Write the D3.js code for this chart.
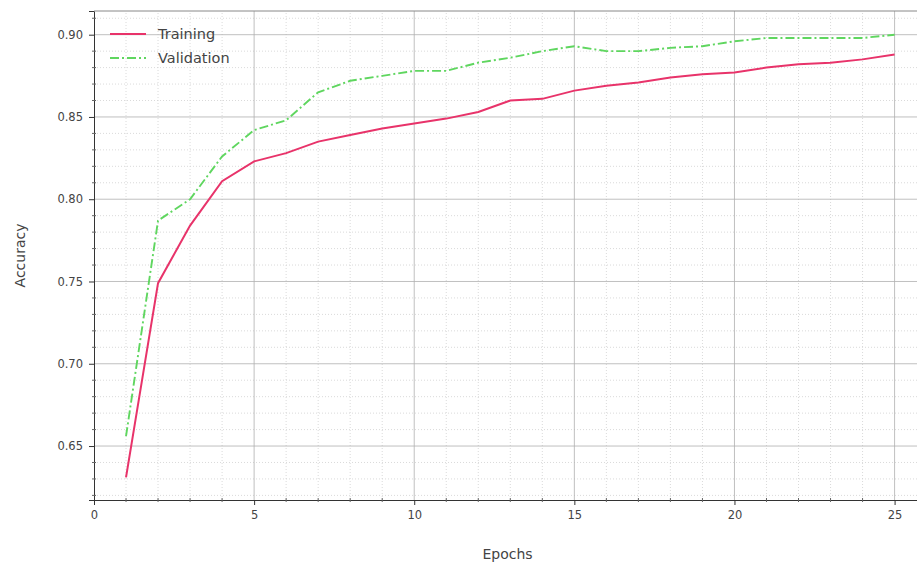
<!DOCTYPE html>
<html>
<head>
<meta charset="utf-8">
<script src="https://cdn.jsdelivr.net/npm/d3@7"></script>
<style>
  body { margin: 0; background: #fff; }
  text { font-family: "DejaVu Sans", sans-serif; }
</style>
</head>
<body>
<svg id="acc-chart" width="917" height="565"></svg>
<script>
// accuracy per epoch
const epochs = d3.range(1, 26);
const trainAcc = [0.631, 0.749, 0.784, 0.811, 0.823, 0.828, 0.835, 0.839, 0.843, 0.846,
  0.849, 0.853, 0.860, 0.861, 0.866, 0.869, 0.871, 0.874, 0.876, 0.877,
  0.880, 0.882, 0.883, 0.885, 0.888];
const valAcc = [0.656, 0.787, 0.800, 0.826, 0.842, 0.848, 0.865, 0.872, 0.875, 0.878,
  0.878, 0.883, 0.886, 0.890, 0.893, 0.890, 0.890, 0.892, 0.893, 0.896,
  0.898, 0.898, 0.898, 0.898, 0.900];
const xTicks = [0, 5, 10, 15, 20, 25];
const yTicks = [0.65, 0.70, 0.75, 0.80, 0.85, 0.90];

const svg = d3.select("svg#acc-chart");
const margin = { left: 94, right: 0, top: 11, bottom: 65 };
const width = +svg.attr("width");
const height = +svg.attr("height");

const x = d3.scaleLinear()
  .domain([0, 25.7])
  .range([margin.left, width - margin.right]);
const y = d3.scaleLinear()
  .domain([0.6172, 0.9144])
  .range([height - margin.bottom, margin.top]);

const gridColor = "#b0b0b0";
const minorColor = "#d0d0d0";
const axisColor = "#333";

// minor grid (dotted)
const xMinor = d3.range(1, 26).filter((d) => d % 5 !== 0);
const yMinor = d3.range(62, 92).map((d) => d / 100).filter((d) => Math.round(d * 100) % 5 !== 0);

const grid = svg.append("g").attr("class", "grid");
grid.selectAll("line.xminor")
  .data(xMinor)
  .join("line")
  .attr("class", "xminor")
  .attr("x1", (d) => x(d)).attr("x2", (d) => x(d))
  .attr("y1", y.range()[0]).attr("y2", y.range()[1])
  .attr("stroke", minorColor)
  .attr("stroke-width", 0.8)
  .attr("stroke-dasharray", "1,2");
grid.selectAll("line.yminor")
  .data(yMinor)
  .join("line")
  .attr("class", "yminor")
  .attr("y1", (d) => y(d)).attr("y2", (d) => y(d))
  .attr("x1", x.range()[0]).attr("x2", x.range()[1])
  .attr("stroke", minorColor)
  .attr("stroke-width", 0.8)
  .attr("stroke-dasharray", "1,2");

// major grid
grid.selectAll("line.xmajor")
  .data(xTicks.slice(1))
  .join("line")
  .attr("class", "xmajor")
  .attr("x1", (d) => x(d)).attr("x2", (d) => x(d))
  .attr("y1", y.range()[0]).attr("y2", y.range()[1])
  .attr("stroke", gridColor)
  .attr("stroke-width", 0.8);
grid.selectAll("line.ymajor")
  .data(yTicks)
  .join("line")
  .attr("class", "ymajor")
  .attr("y1", (d) => y(d)).attr("y2", (d) => y(d))
  .attr("x1", x.range()[0]).attr("x2", x.range()[1])
  .attr("stroke", gridColor)
  .attr("stroke-width", 0.8);

// axes
const xAxis = svg.append("g")
  .attr("transform", `translate(0, ${y.range()[0]})`)
  .call(d3.axisBottom(x).tickValues(xTicks).tickSize(5).tickPadding(6).tickFormat(d3.format("d")));
const yAxis = svg.append("g")
  .attr("transform", `translate(${x.range()[0]}, 0)`)
  .call(d3.axisLeft(y).tickValues(yTicks).tickSize(5).tickPadding(6).tickFormat(d3.format(".2f")));

[xAxis, yAxis].forEach((ax) => {
  ax.select(".domain").attr("stroke", axisColor).attr("stroke-width", 1);
  ax.selectAll(".tick line").attr("stroke", axisColor);
  ax.selectAll(".tick text")
    .attr("fill", "#444")
    .style("font-size", "11.5px")
    .style("font-family", "DejaVu Sans, sans-serif");
});

// minor ticks
svg.append("g").selectAll("line")
  .data(xMinor)
  .join("line")
  .attr("x1", (d) => x(d)).attr("x2", (d) => x(d))
  .attr("y1", y.range()[0] - 2).attr("y2", y.range()[0] + 2)
  .attr("stroke", "#666");
svg.append("g").selectAll("line")
  .data(yMinor)
  .join("line")
  .attr("y1", (d) => y(d)).attr("y2", (d) => y(d))
  .attr("x1", x.range()[0] - 2).attr("x2", x.range()[0] + 2)
  .attr("stroke", "#666");

// top spine
svg.append("line")
  .attr("x1", x.range()[0]).attr("x2", x.range()[1])
  .attr("y1", y.range()[1]).attr("y2", y.range()[1])
  .attr("stroke", "#888")
  .attr("stroke-width", 1);

// lines
const trainColor = "#e8336a";
const valColor = "#5fd65f";
const lineGen = d3.line().x((d) => x(d[0])).y((d) => y(d[1]));

svg.append("path")
  .datum(epochs.map((e, i) => [e, valAcc[i]]))
  .attr("fill", "none")
  .attr("stroke", valColor)
  .attr("stroke-width", 1.9)
  .attr("stroke-dasharray", "9,3,2,3")
  .attr("d", lineGen);
svg.append("path")
  .datum(epochs.map((e, i) => [e, trainAcc[i]]))
  .attr("fill", "none")
  .attr("stroke", trainColor)
  .attr("stroke-width", 2)
  .attr("d", lineGen);

// legend
const legend = svg.append("g").attr("transform", "translate(110, 34)");
const legendItems = [
  { label: "Training", color: trainColor, dash: null },
  { label: "Validation", color: valColor, dash: "9,3,2,3" },
];
legendItems.forEach((item, i) => {
  legend.append("line")
    .attr("x1", 0).attr("x2", 36)
    .attr("y1", i * 24).attr("y2", i * 24)
    .attr("stroke", item.color)
    .attr("stroke-width", 2)
    .attr("stroke-dasharray", item.dash);
  legend.append("text")
    .attr("x", 48)
    .attr("y", i * 24)
    .attr("dominant-baseline", "central")
    .attr("fill", "#444")
    .style("font-size", "14.5px")
    .text(item.label);
});

// axis labels
svg.append("text")
  .attr("x", (x.range()[0] + 917) / 2 + 2)
  .attr("y", 554)
  .attr("text-anchor", "middle")
  .attr("dominant-baseline", "central")
  .attr("fill", "#444")
  .style("font-size", "14px")
  .text("Epochs");
svg.append("text")
  .attr("transform", `translate(20, ${(y.range()[0] + y.range()[1]) / 2}) rotate(-90)`)
  .attr("text-anchor", "middle")
  .attr("dominant-baseline", "central")
  .attr("fill", "#444")
  .style("font-size", "14px")
  .text("Accuracy");
</script>
</body>
</html>
